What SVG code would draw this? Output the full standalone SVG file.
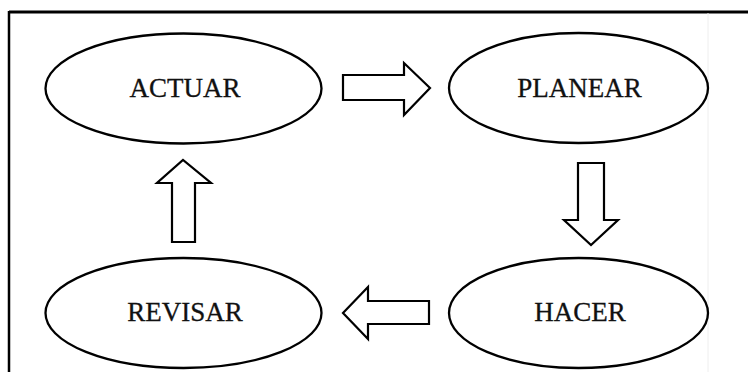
<svg xmlns="http://www.w3.org/2000/svg" width="748" height="372" viewBox="0 0 748 372">
<style>
.node ellipse{fill:#fff;stroke:#000;stroke-width:2.3}
.node text{font-family:"Liberation Serif","Times New Roman",serif;font-size:27px;fill:#111;stroke:#111;stroke-width:0.3;text-anchor:middle}
.arrow{fill:#fff;stroke:#000;stroke-width:2.2;stroke-linejoin:miter}
</style>
<rect width="748" height="372" fill="#fff"/>
<line x1="9" y1="12" x2="748" y2="12" stroke="#000" stroke-width="3"/>
<line x1="9" y1="11" x2="9" y2="372" stroke="#000" stroke-width="2.5"/>
<line x1="708" y1="13" x2="708" y2="372" stroke="#eee" stroke-width="1"/>
<g id="actuar" class="node"><ellipse cx="183.5" cy="88.5" rx="138" ry="55"/><text x="185" y="97">ACTUAR</text></g>
<g id="planear" class="node"><ellipse cx="578.5" cy="88" rx="129.5" ry="55"/><text x="579.5" y="97">PLANEAR</text></g>
<g id="hacer" class="node"><ellipse cx="578.5" cy="313" rx="129.5" ry="55"/><text x="580" y="321">HACER</text></g>
<g id="revisar" class="node"><ellipse cx="183.5" cy="313" rx="138" ry="55"/><text x="185" y="321">REVISAR</text></g>
<g id="connectors">
<polygon class="arrow" points="343,75 404,75 404,63 430,88 404,115 404,100 343,100"/>
<polygon class="arrow" points="578,163 604,163 604,220 618,220 591,245 564,220 578,220"/>
<polygon class="arrow" points="429,301 368,301 368,287 343,313 368,339 368,324 429,324"/>
<polygon class="arrow" points="172,242 172,183 157,183 183,160 211,183 195,183 195,242"/>
</g>
</svg>
